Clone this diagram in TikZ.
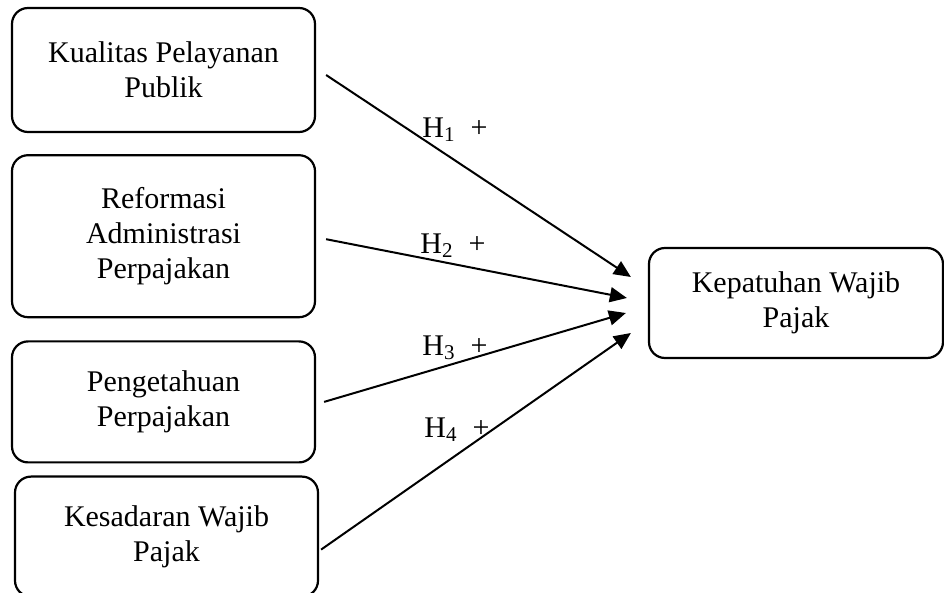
\documentclass[tikz,border=0pt]{standalone}
\usepackage{fontspec}
\setmainfont{Liberation Serif}
\usetikzlibrary{positioning, arrows.meta}

\begin{document}
\begin{tikzpicture}[x=1pt, y=1pt,
        every node/.style={align=center, font=\fontsize{15}{17.5}\selectfont},
        var/.style={rectangle, draw, rounded corners=8pt, line width=1.1pt, minimum width=151.5pt, inner sep=2pt},
        arr/.style={-{Triangle[length=8.5pt, width=7.5pt]}, line width=1pt}]
        \useasboundingbox (0,0) rectangle (472,-296.5);

        % Independent variables
        \node (kpp) [var, minimum height=62pt] at (81.75,-35) {Kualitas Pelayanan\\Publik};
        \node (rap) [var, minimum height=81pt, below=10.5pt of kpp] {Reformasi\\Administrasi\\Perpajakan};
        \node (pp) [var, minimum height=60.5pt, below=11pt of rap] {Pengetahuan\\Perpajakan};
        \node (kwp) [var, minimum height=60pt, below=6pt of pp, xshift=1.5pt] {Kesadaran Wajib\\Pajak};

        % Dependent variable
        \node (kepw) [var, minimum width=147pt, minimum height=55pt] at (398,-151.5) {Kepatuhan Wajib\\Pajak};

        % Hypotheses
        \draw[arr] ([xshift=5pt, yshift=-2.5pt]kpp.east) -- ([xshift=-8.5pt, yshift=13pt]kepw.west);
        \draw[arr] ([xshift=5pt, yshift=-1.5pt]rap.east) -- ([xshift=-10.5pt, yshift=2.5pt]kepw.west);
        \draw[arr] ([xshift=4pt]pp.east) -- ([xshift=-11pt, yshift=-5pt]kepw.west);
        \draw[arr] ([xshift=1pt, yshift=-6.5pt]kwp.east) -- ([xshift=-8.5pt, yshift=-15pt]kepw.west);

        \node (h1) at (227.5,-65) {H\textsubscript{1}\ \ +};
        \node (h2) at (226.5,-123) {H\textsubscript{2}\ \ +};
        \node (h3) at (227.5,-174) {H\textsubscript{3}\ \ +};
        \node (h4) at (228.5,-215) {H\textsubscript{4}\ \ +};
\end{tikzpicture}
\end{document}
